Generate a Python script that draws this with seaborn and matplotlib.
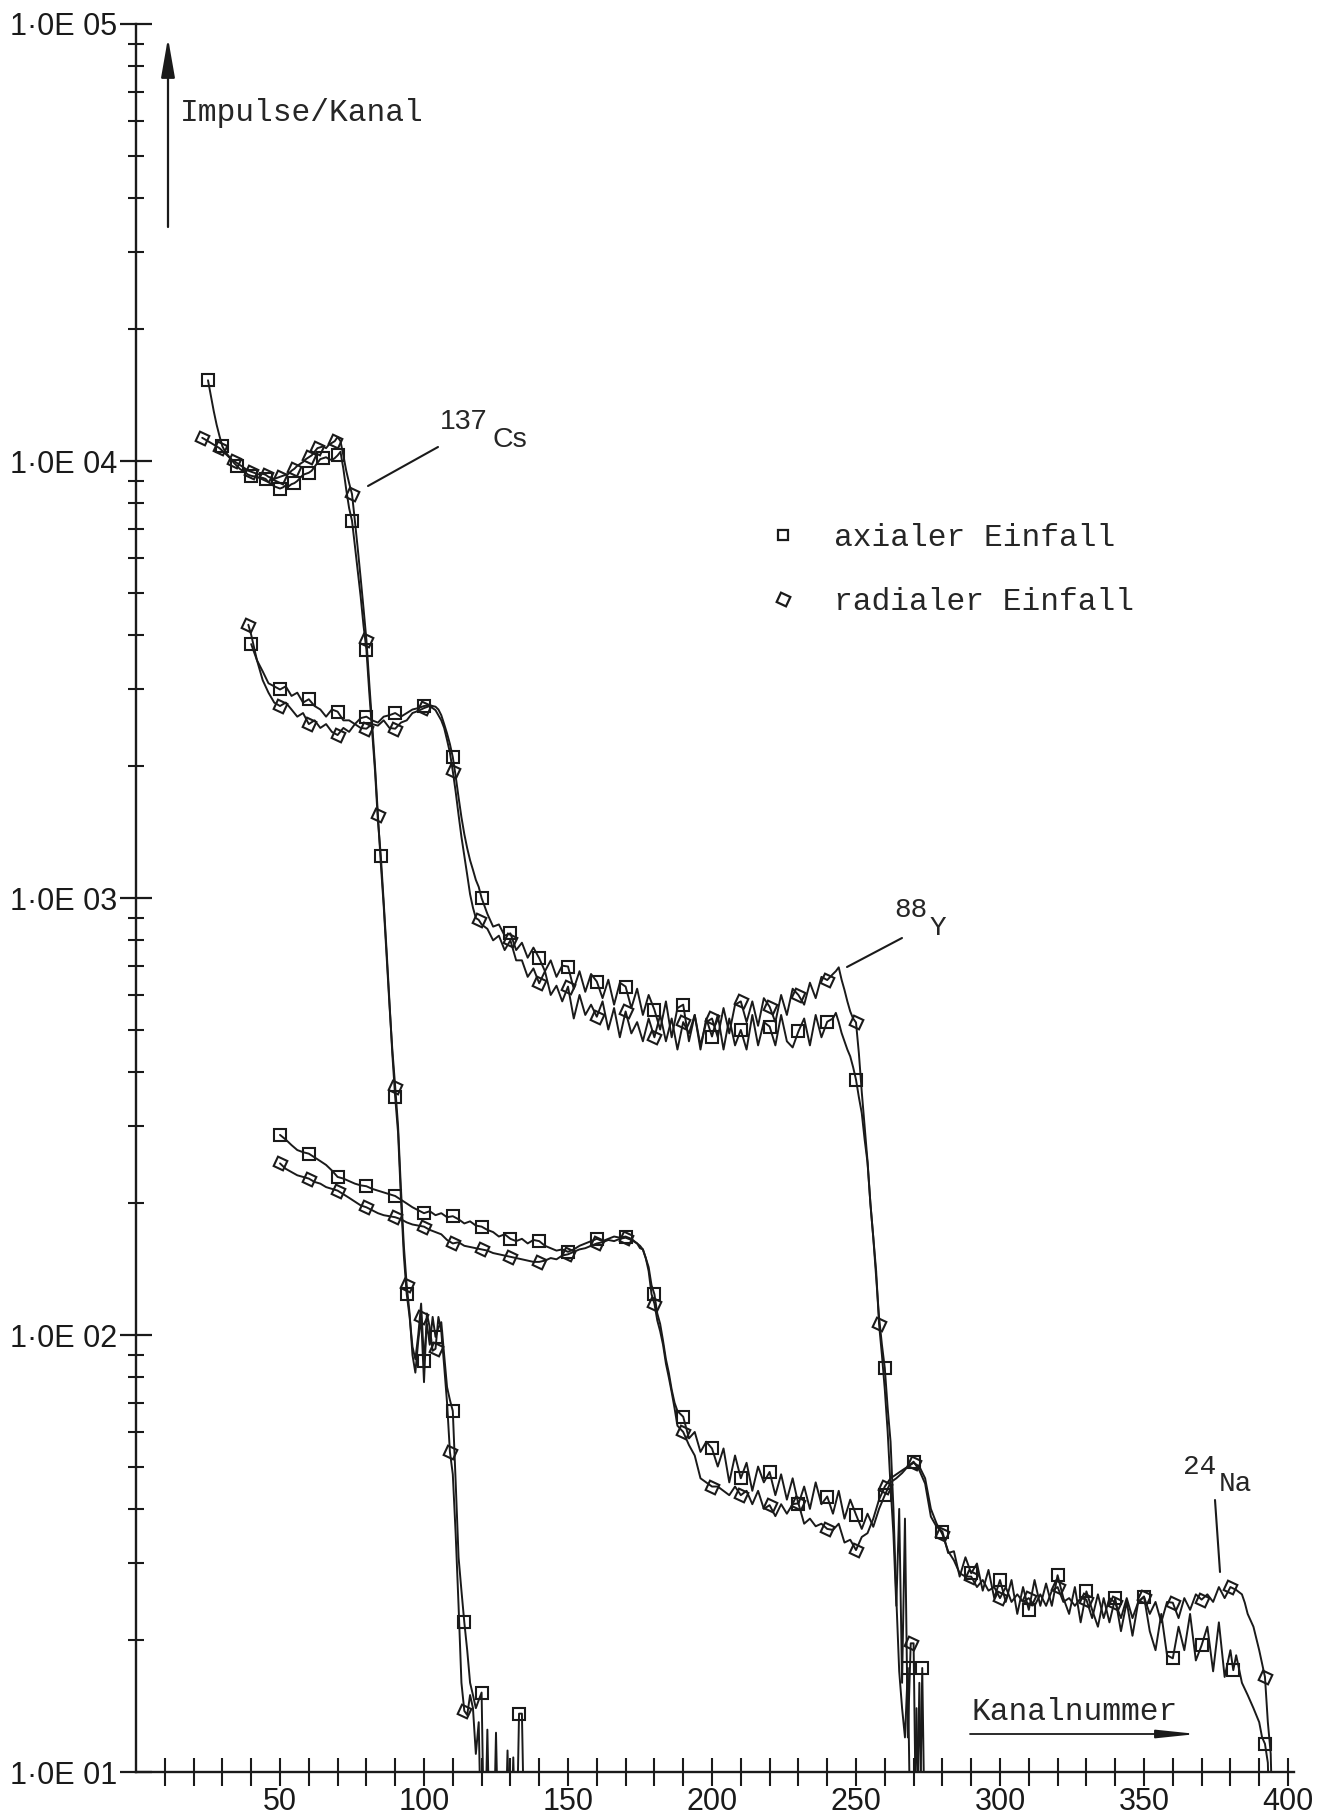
import numpy as np
import pandas as pd
import matplotlib
matplotlib.use("Agg")
import matplotlib.pyplot as plt
import seaborn as sns
from matplotlib.ticker import FixedLocator, FixedFormatter, LogLocator, NullFormatter
from matplotlib.lines import Line2D
from matplotlib.patches import FancyArrowPatch
from matplotlib.font_manager import FontProperties

# ---------------- data ----------------
cs_ax_ch = list(range(25, 136))
cs_ax_val = [15300, 14100, 13000, 12100, 11400, 10800, 10500, 10300, 10100, 9900,
             9750, 9600, 9500, 9400, 9300, 9250, 9220, 9200, 9150, 9150,
             9100, 8950, 8850, 8750, 8700, 8650, 8700, 8800, 8750, 8850,
             8900, 9000, 9150, 9300, 9350, 9400, 9500, 9700, 9900, 10100,
             10150, 10200, 10100, 10050, 10150, 10300, 10500, 9600, 8600, 7800,
             7300, 6400, 5600, 4900, 4200, 3700, 2950, 2400, 1950, 1500,
             1250, 980, 760, 580, 440, 350, 290, 205, 152, 124,
             110, 94, 88, 100, 118, 87, 106, 95, 110, 99,
             104, 107, 90, 76, 71, 67, 46, 31, 26, 22,
             19, 16, 15, 14, 14.6, 15.2, 6, 12.5, 6, 6,
             12.3, 6, 6, 6, 11.2, 6, 6, 6, 13.6, 13.6, 6]
cs_ax_mk = [25, 30, 35, 40, 45, 50, 55, 60, 65, 70, 75, 80, 85, 90, 94, 100, 104, 110, 114, 120, 133]

cs_rad_ch = list(range(23, 133))
cs_rad_val = [11300, 11200, 11100, 11000, 10900, 10800, 10700, 10550, 10400, 10250,
              10100, 10000, 9900, 9800, 9700, 9600, 9500, 9450, 9400, 9350,
              9300, 9350, 9300, 9200, 9150, 9100, 9150, 9200, 9250, 9300,
              9350, 9500, 9600, 9750, 9850, 9950, 10100, 10200, 10300, 10500,
              10700, 10750, 10800, 10700, 10900, 11000, 11100, 11350, 11100, 10300,
              9500, 8900, 8400, 7300, 6300, 5400, 4600, 3900, 3100, 2500,
              2000, 1550, 1200, 960, 740, 570, 450, 370, 300, 215,
              160, 130, 112, 90, 82, 97, 110, 78, 112, 104,
              92, 93, 110, 102, 85, 70, 54, 48, 35, 24,
              16, 13.8, 13.5, 15, 14, 11, 13, 6, 6, 6,
              6, 6, 6, 6, 6, 6, 6, 6, 10.8, 6]
cs_rad_mk = [23, 29, 34, 40, 45, 50, 55, 60, 63, 69, 75, 80, 84, 90, 94, 99, 104, 109, 114]

y_ax_ch = list(range(40, 105, 2)) + list(range(105, 121)) + list(range(122, 243, 2)) + list(range(243, 275))
y_ax_val = [3810, 3500, 3300, 3100, 3050, 3000, 3050, 2900, 2950, 2800,
            2850, 2750, 2700, 2600, 2700, 2670, 2550, 2550, 2500, 2580,
            2600, 2550, 2520, 2600, 2620, 2650, 2600, 2650, 2700, 2720,
            2750, 2760, 2740,
            2700, 2620, 2500, 2380, 2250, 2100, 1900, 1700, 1530, 1400, 1300, 1220, 1160, 1100, 1060, 1000,
            920, 860, 870, 820, 830, 760, 790, 730, 770, 728,
            680, 720, 660, 700, 697, 620, 680, 610, 670, 644,
            590, 650, 570, 640, 627, 560, 620, 540, 600, 555,
            500, 580, 480, 560, 570, 470, 540, 450, 530, 482,
            540, 450, 530, 460, 499, 450, 540, 460, 520, 508,
            460, 540, 470, 455, 495, 530, 460, 540, 480, 521,
            530,
            546, 520, 491, 470, 450, 434, 410, 384, 350, 322,
            280, 248, 200, 167, 135, 110, 95, 84, 68, 57,
            40, 25, 17, 14, 12, 17.3, 6, 6, 14, 6,
            17.3, 6]
y_ax_mk = [40, 50, 60, 70, 80, 90, 100, 110, 120, 130, 140, 150, 160, 170, 180, 190,
           200, 210, 220, 230, 240, 250, 260, 268, 273]

y_rad_ch = [39] + list(range(40, 105, 2)) + list(range(105, 121)) + list(range(122, 243, 2)) + list(range(243, 274))
y_rad_val = [4220,
             4000, 3500, 3150, 2950, 2800, 2750, 2800, 2700, 2600, 2650,
             2500, 2550, 2450, 2500, 2400, 2360, 2450, 2400, 2500, 2450,
             2440, 2500, 2480, 2550, 2450, 2440, 2520, 2550, 2650, 2680,
             2720, 2750, 2690,
             2620, 2550, 2450, 2300, 2150, 1950, 1750, 1550, 1380, 1250, 1130, 1020, 950, 900, 891, 870,
             850, 800, 820, 760, 800, 720, 720, 660, 690, 638,
             680, 600, 630, 580, 627, 530, 600, 540, 570, 535,
             580, 500, 560, 480, 550, 490, 520, 470, 530, 480,
             540, 470, 530, 450, 520, 490, 540, 460, 520, 530,
             480, 560, 490, 570, 580, 520, 580, 510, 590, 564,
             520, 600, 540, 620, 600, 570, 640, 590, 660, 649,
             670,
             680, 694, 650, 616, 580, 550, 530, 519, 441, 360,
             300, 250, 200, 167, 140, 106, 90, 75, 60, 45,
             35, 24, 40, 16, 38, 12, 19.7, 19.7, 6, 16,
             6]
y_rad_mk = [39, 50, 60, 70, 80, 90, 100, 110, 119, 130, 140, 150, 160, 170, 180, 190,
            200, 210, 220, 230, 240, 250, 258, 269]

na_ax_ch = (list(range(50, 175, 2)) + list(range(175, 189)) + list(range(190, 381, 2))
            + [381, 382, 384, 386, 388, 390, 391, 392, 393, 394])
na_ax_val = [287, 280, 272, 265, 262, 260, 255, 250, 245, 238,
             230, 228, 225, 222, 220, 219, 216, 214, 212, 210,
             208, 204, 200, 196, 193, 190, 192, 188, 190, 186,
             187, 184, 180, 182, 178, 177, 174, 172, 168, 170,
             166, 164, 166, 162, 165, 164, 160, 158, 156, 157,
             155, 157, 160, 162, 164, 166, 164, 166, 168, 167,
             168, 166, 162,
             158, 157, 150, 143, 130, 124, 112, 106, 97, 88, 82, 75, 70, 67,
             65, 58, 60, 54, 57, 55, 50, 55, 46, 53,
             47, 51, 44, 50, 46, 48.6, 43, 48, 42, 47,
             41, 45, 40, 46, 41, 42.7, 39, 44, 38, 42,
             38.8, 36, 39, 36.4, 40, 43, 46, 47, 48.3, 50,
             51.3, 49, 45.7, 38.4, 36.4, 35.5, 31.7, 32, 28, 31,
             28.5, 30, 26, 29, 25, 27.5, 24.5, 27.5, 23, 26.5,
             23.5, 27.5, 24, 27, 24, 28.2, 25, 23, 26.5, 22,
             25.9, 23.5, 21.5, 25, 22, 25, 21, 24.5, 20.5, 24.5,
             25.2, 21, 19, 23, 18.5, 18.2, 21.5, 19, 23, 18,
             19.5, 21.5, 17, 22, 16.5, 19,
             17.1, 18.5, 16, 15, 14, 13, 12, 11.6, 10.5, 6]
na_ax_mk = list(range(50, 371, 10)) + [381, 392]

na_rad_ch = (list(range(50, 175, 2)) + list(range(175, 189)) + list(range(190, 385, 2))
             + [385, 386, 388, 390, 392, 393, 394, 395])
na_rad_val = [247, 240, 236, 232, 230, 228, 224, 222, 218, 216,
              214, 210, 206, 202, 198, 196, 193, 190, 188, 187,
              186, 184, 181, 179, 178, 177, 174, 172, 170, 165,
              162, 163, 160, 159, 158, 157, 156, 154, 153, 152,
              151, 150, 149, 148, 147, 147, 148, 150, 149, 152,
              153, 155, 157, 158, 160, 162, 163, 165, 164, 166,
              167, 165, 162,
              160, 157, 150, 140, 124, 118, 108, 102, 95, 86, 80, 74, 68, 62,
              60, 56, 53, 47, 46, 45, 45, 44, 43, 45,
              43, 44, 41, 44, 40, 40.8, 38.5, 41, 39, 41,
              41.2, 37, 38, 36.5, 37, 36, 35.8, 37, 33.5, 34,
              32.2, 34.5, 35.2, 38, 42, 45, 47, 48, 49, 50,
              51, 50, 47, 40, 37, 35, 32, 30.5, 28.5, 28,
              28, 26.5, 27.5, 26, 26.5, 25, 26.5, 24.5, 25.5, 24.5,
              25, 24, 25.5, 24, 26, 26.5, 24.5, 25, 24, 25,
              24.8, 22.5, 25.5, 22.5, 25, 24.4, 22.5, 25, 22.5, 24.5,
              25.2, 23, 24.5, 22, 24.5, 24.4, 22.5, 25, 23.5, 25.5,
              24.8, 25.5, 24.5, 26.5, 25, 26.5, 26.1, 25.5,
              24.4, 23, 21.5, 19, 16.5, 13, 11, 6]
na_rad_mk = list(range(50, 381, 10)) + [392]

y_tick_vals = [10, 100, 1000, 10000, 100000]
y_tick_labels = ["1\u00b70E 01", "1\u00b70E 02", "1\u00b70E 03", "1\u00b70E 04", "1\u00b70E 05"]
x_tick_vals = [50, 100, 150, 200, 250, 300, 350, 400]
x_tick_labels = ["50", "100", "150", "200", "250", "300", "350", "400"]
legend_labels = ["axialer Einfall", "radialer Einfall"]

series = [
    ("Cs", "axial", cs_ax_ch, cs_ax_val, cs_ax_mk),
    ("Cs", "radial", cs_rad_ch, cs_rad_val, cs_rad_mk),
    ("Y", "axial", y_ax_ch, y_ax_val, y_ax_mk),
    ("Y", "radial", y_rad_ch, y_rad_val, y_rad_mk),
    ("Na", "axial", na_ax_ch, na_ax_val, na_ax_mk),
    ("Na", "radial", na_rad_ch, na_rad_val, na_rad_mk),
]

frames = []
for q, e, ch, val, mk in series:
    frames.append(pd.DataFrame({"kanal": ch, "impulse": val, "quelle": q, "einfall": e}))
df = pd.concat(frames, ignore_index=True)

# ---------------- style ----------------
sns.set_theme(style="ticks")
plt.rcParams["font.family"] = ["Liberation Sans", "DejaVu Sans"]
mono = ["Liberation Mono", "DejaVu Sans Mono"]

W, H = 1322, 1817
fig = plt.figure(figsize=(W / 100, H / 100), dpi=100)
x0px, x1px = 136, 136 + 2.88 * 402
ytop, ybot = 24, 1772
ax = fig.add_axes([x0px / W, 1 - ybot / H, (x1px - x0px) / W, (ybot - ytop) / H])
ax.set_yscale("log")

square_marker = "s"
diamond_marker = (4, 0, 20)

for q, e, ch, val, mk in series:
    sub = df[(df["quelle"] == q) & (df["einfall"] == e)]
    idx = [ch.index(m) for m in mk]
    if e == "axial":
        mstyle = dict(marker=square_marker, ms=8.8)
    else:
        mstyle = dict(marker=diamond_marker, ms=10.5)
    sns.lineplot(data=sub, x="kanal", y="impulse", ax=ax, color="k", lw=1.4,
                 estimator=None, sort=False, legend=False, markevery=idx,
                 mfc="none", mec="k", mew=1.5, **mstyle)

ax.set_xlim(0, 402)
ax.set_ylim(10, 1e5)
ax.set_xlabel("")
ax.set_ylabel("")
for s in ["top", "right"]:
    ax.spines[s].set_visible(False)
for s in ["left", "bottom"]:
    ax.spines[s].set_linewidth(1.7)
    ax.spines[s].set_color("k")

ax.yaxis.set_major_locator(FixedLocator(y_tick_vals))
ax.yaxis.set_major_formatter(FixedFormatter(y_tick_labels))
ax.yaxis.set_minor_locator(LogLocator(base=10, subs=np.arange(2, 10)))
ax.yaxis.set_minor_formatter(NullFormatter())
ax.xaxis.set_major_locator(FixedLocator(x_tick_vals))
ax.xaxis.set_major_formatter(FixedFormatter(x_tick_labels))
ax.xaxis.set_minor_locator(FixedLocator(list(range(10, 401, 10))))

ax.tick_params(axis="y", which="major", direction="inout", length=23, width=1.6, pad=2,
               labelsize=22, colors="k")
ax.tick_params(axis="y", which="minor", direction="inout", length=12, width=1.5, colors="k")
ax.tick_params(axis="x", which="both", direction="inout", length=20, width=1.5, pad=1,
               labelsize=22, colors="k")

# ---------------- texts / arrows ----------------
def fx(px):
    return px / W

def fy(py):
    return 1 - py / H

fig.text(fx(180), fy(113), "Impulse/Kanal", family=mono, fontsize=22.5, ha="left", va="center")
fig.text(fx(972), fy(1712), "Kanalnummer", family=mono, fontsize=22.5, ha="left", va="center")

fig.add_artist(FancyArrowPatch((fx(168), fy(227)), (fx(168), fy(38)), transform=fig.transFigure,
                               arrowstyle="-|>,head_length=2.4,head_width=0.42", mutation_scale=10,
                               color="k", lw=1.6, shrinkA=0, shrinkB=0))
fig.add_artist(FancyArrowPatch((fx(970), fy(1734)), (fx(1197), fy(1734)), transform=fig.transFigure,
                               arrowstyle="-|>,head_length=2.4,head_width=0.25", mutation_scale=10,
                               color="k", lw=1.3, shrinkA=0, shrinkB=0))

# isotope labels
fig.text(fx(440), fy(422), "137", fontsize=20.5, ha="left", va="center")
fig.text(fx(493), fy(440), "Cs", fontsize=20.5, ha="left", va="center")
fig.add_artist(Line2D([fx(438), fx(368)], [fy(447), fy(486)], transform=fig.transFigure, color="k", lw=1.5))

fig.text(fx(894), fy(910), "88", family=mono, fontsize=20, ha="left", va="center")
fig.text(fx(930), fy(928), "Y", family=mono, fontsize=20, ha="left", va="center")
fig.add_artist(Line2D([fx(902), fx(847)], [fy(938), fy(967)], transform=fig.transFigure, color="k", lw=1.5))

fig.text(fx(1183), fy(1467), "24", family=mono, fontsize=20, ha="left", va="center")
fig.text(fx(1219), fy(1484), "Na", family=mono, fontsize=20, ha="left", va="center")
fig.add_artist(Line2D([fx(1215), fx(1220)], [fy(1500), fy(1572)], transform=fig.transFigure, color="k", lw=1.5))

# legend
handles = [Line2D([], [], ls="none", marker=square_marker, ms=7.5, mfc="none", mec="k", mew=1.6),
           Line2D([], [], ls="none", marker=diamond_marker, ms=10.5, mfc="none", mec="k", mew=1.6)]
ax.legend(handles, legend_labels, loc="upper left", bbox_to_anchor=(fx(767), fy(523)),
          bbox_transform=fig.transFigure, frameon=False,
          prop=FontProperties(family=mono, size=22.5), handlelength=1.0, handletextpad=1.14,
          labelspacing=1.08, borderpad=0, borderaxespad=0)

fig.savefig("out.png", dpi=100, facecolor="white")
